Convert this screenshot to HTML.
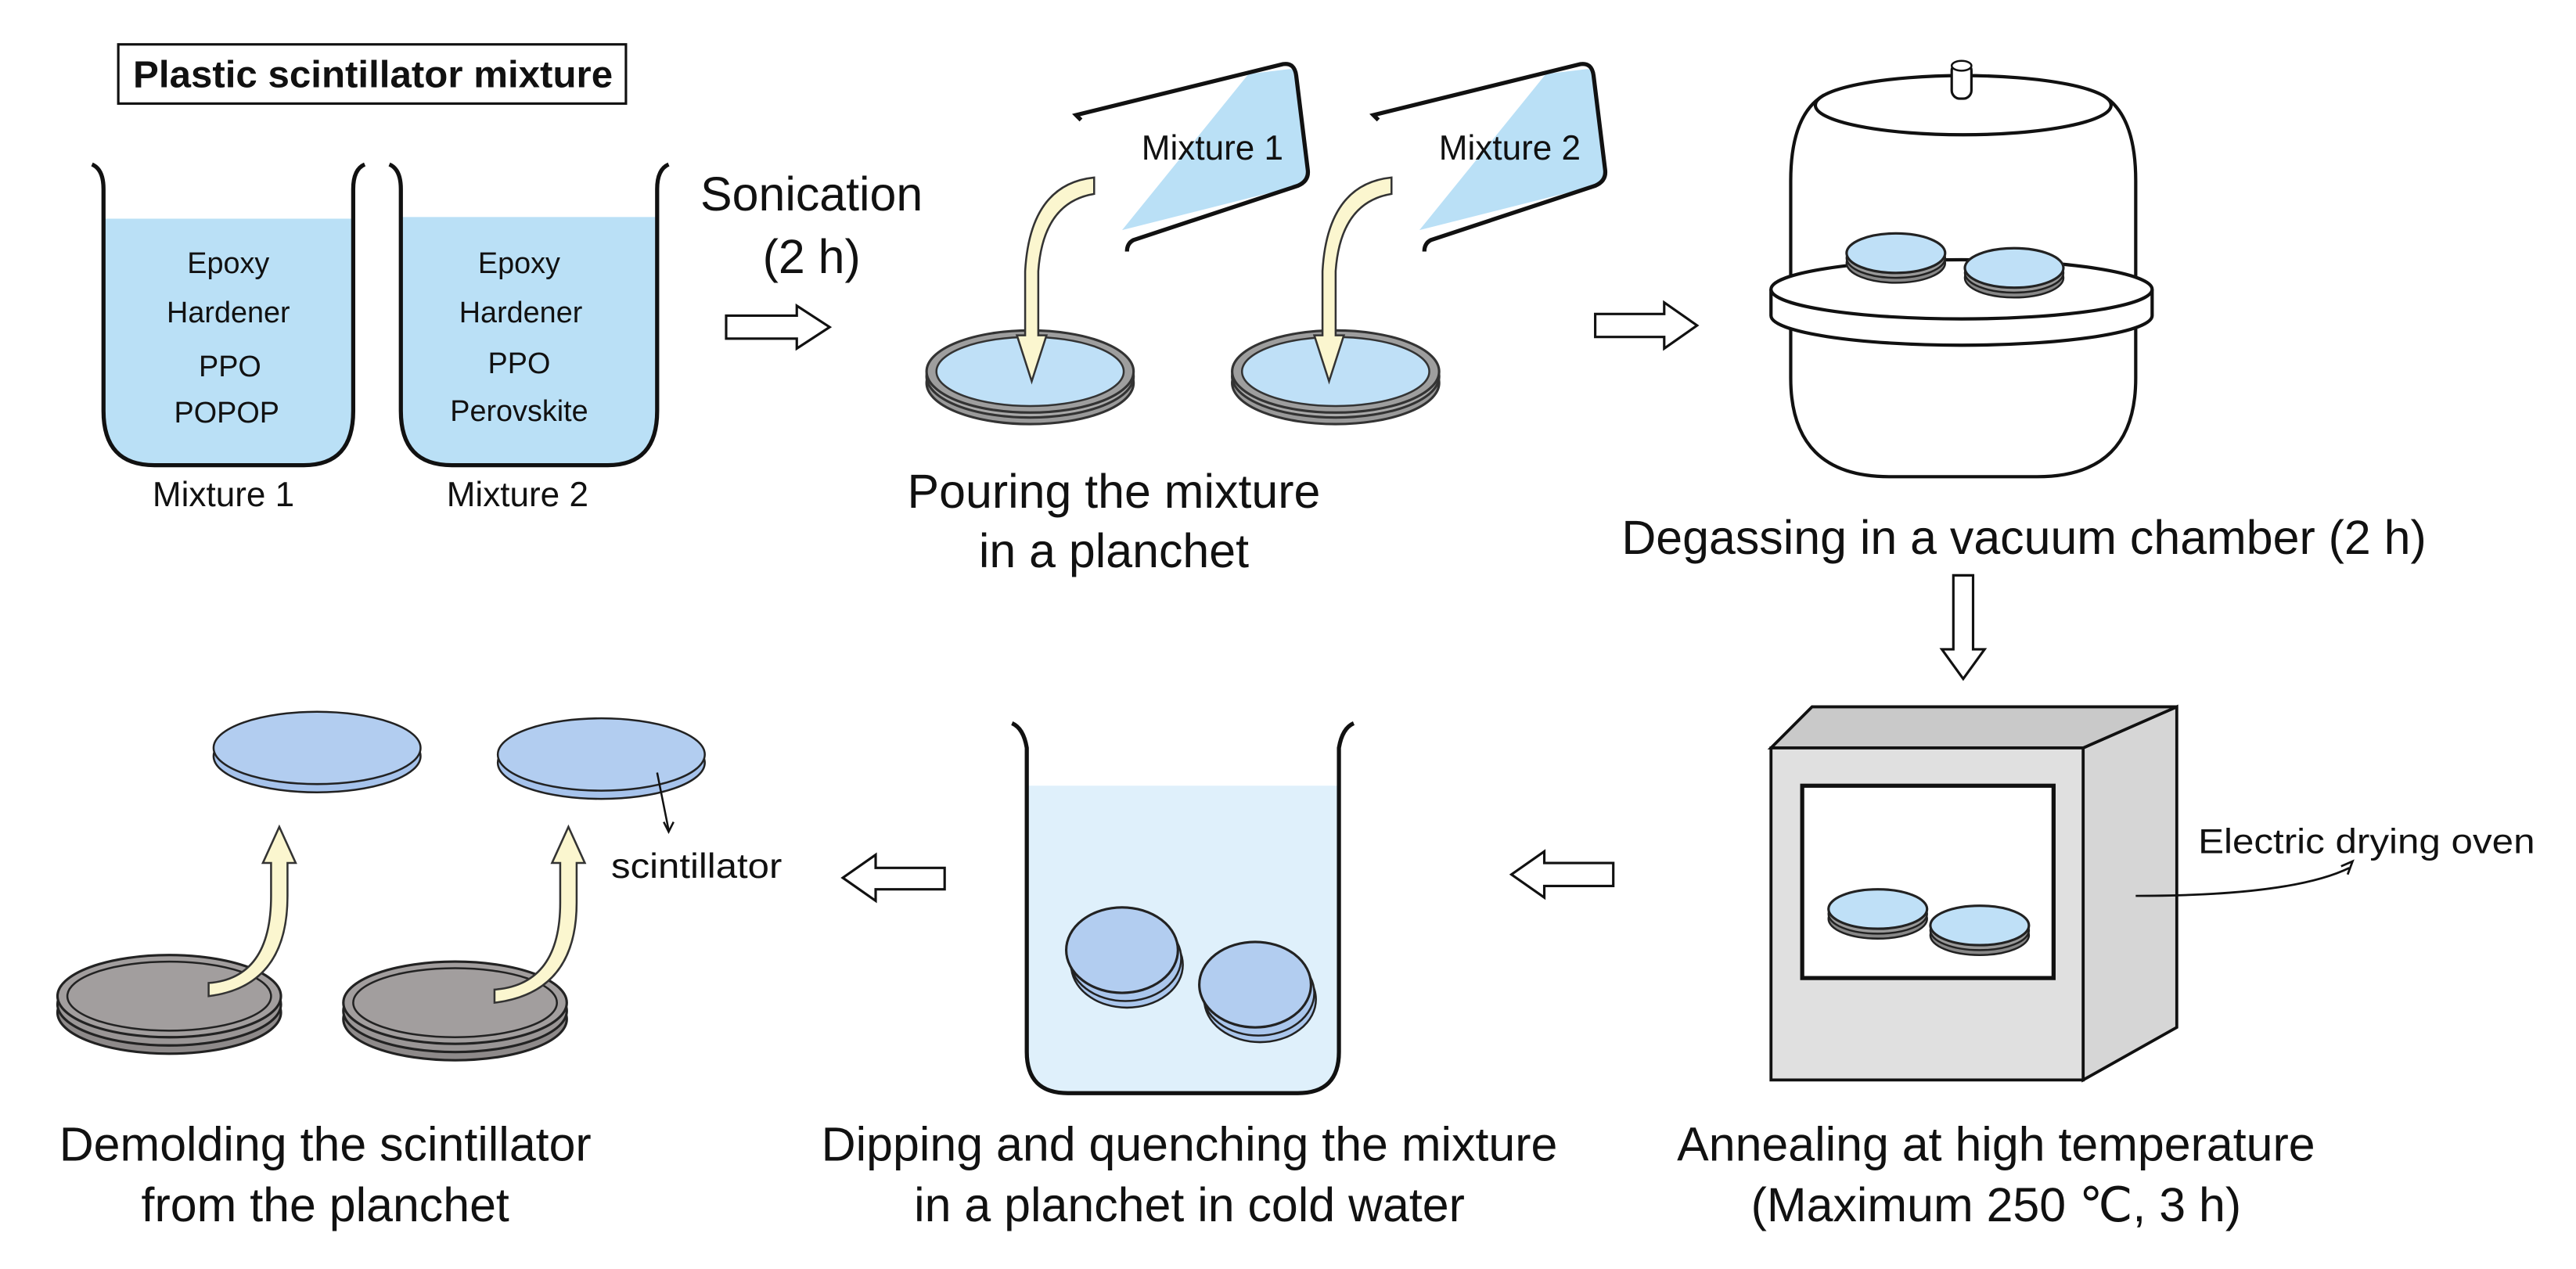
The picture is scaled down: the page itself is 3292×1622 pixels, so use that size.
<!DOCTYPE html>
<html><head><meta charset="utf-8"><style>
html,body{margin:0;padding:0;background:#fff;}
svg{display:block;}
text{font-family:"Liberation Sans",Arial,sans-serif;fill:#111;}
</style></head><body>
<svg width="3292" height="1622" viewBox="0 0 1568 772" preserveAspectRatio="none" xmlns="http://www.w3.org/2000/svg">
<defs>
<g id="planchet">
<ellipse cx="0" cy="6" rx="63" ry="25" fill="#9a9a9a" stroke="#333" stroke-width="1.5"/>
<ellipse cx="0" cy="2" rx="63" ry="25" fill="#a9a9a9" stroke="#333" stroke-width="1.5"/>
<ellipse cx="0" cy="-1" rx="63" ry="25" fill="#9e9e9e" stroke="#333" stroke-width="1.5"/>
<ellipse cx="0" cy="-1" rx="57" ry="21" fill="#bfe0f7" stroke="#333" stroke-width="1.2"/>
</g>
<g id="graypl">
<ellipse cx="0" cy="8" rx="68" ry="25" fill="#8e8a8a" stroke="#222" stroke-width="1.5"/>
<ellipse cx="0" cy="3" rx="68" ry="25" fill="#9a9696" stroke="#222" stroke-width="1.5"/>
<ellipse cx="0" cy="-2" rx="68" ry="25" fill="#a29e9e" stroke="#222" stroke-width="1.5"/>
<ellipse cx="0" cy="-2" rx="62" ry="21" fill="#a29e9e" stroke="#222" stroke-width="1.2"/>
</g>
<g id="smalldisk">
<ellipse cx="0" cy="6" rx="30" ry="12" fill="#888" stroke="#222" stroke-width="1.2"/>
<ellipse cx="0" cy="3" rx="30" ry="12" fill="#999" stroke="#222" stroke-width="1.2"/>
<ellipse cx="0" cy="0" rx="30" ry="12" fill="#bfe0f7" stroke="#222" stroke-width="1.5"/>
</g>
<g id="scint">
<ellipse cx="0" cy="5" rx="63" ry="22" fill="#a6c3ec" stroke="#222" stroke-width="1.2"/>
<ellipse cx="0" cy="0" rx="63" ry="22" fill="#b2cdf0" stroke="#222" stroke-width="1.2"/>
</g>
</defs>

<!-- Title -->
<rect x="72" y="27" width="309" height="36" fill="#fff" stroke="#111" stroke-width="1.5"/>
<text x="227" y="53" font-size="23" font-weight="bold" text-anchor="middle" textLength="292" lengthAdjust="spacingAndGlyphs">Plastic scintillator mixture</text>

<!-- Beaker 1 -->
<path d="M63,133 H215 V250 Q215,283 185,283 H94 Q63,283 63,250 Z" fill="#bae0f6"/>
<path d="M56,100 Q63,103 63,115 V250 Q63,283 94,283 H185 Q215,283 215,250 V115 Q215,103 222,100" fill="none" stroke="#111" stroke-width="2.5"/>
<g font-size="18" text-anchor="middle"><text x="139" y="166">Epoxy</text><text x="139" y="196">Hardener</text><text x="140" y="229">PPO</text><text x="138" y="257">POPOP</text></g>
<!-- Beaker 2 -->
<path d="M244,132 H400 V250 Q400,283 370,283 H275 Q244,283 244,250 Z" fill="#bae0f6"/>
<path d="M237,100 Q244,103 244,115 V250 Q244,283 275,283 H370 Q400,283 400,250 V115 Q400,103 407,100" fill="none" stroke="#111" stroke-width="2.5"/>
<g font-size="18" text-anchor="middle"><text x="316" y="166">Epoxy</text><text x="317" y="196">Hardener</text><text x="316" y="227">PPO</text><text x="316" y="256">Perovskite</text></g>
<g font-size="21" text-anchor="middle"><text x="136" y="308">Mixture 1</text><text x="315" y="308">Mixture 2</text></g>

<!-- Sonication -->
<text x="494" y="128" font-size="29" text-anchor="middle">Sonication</text>
<text x="494" y="166" font-size="29" text-anchor="middle">(2 h)</text>
<path d="M442,192 H485 V186 L505,199 L485,212 V206 H442 Z" fill="#fff" stroke="#111" stroke-width="1.5"/>

<!-- Pour containers -->
<g>
<path d="M760,45 L785,42 Q790,42 790,50 L796,103 Q797,110 790,113 L683,140 Z" fill="#bae0f6"/>
<path d="M658,73 L655,70 L781,39 Q788,38 789,46 L796,103 Q797,110 790,113 L690,146 Q686,148 686,153" fill="none" stroke="#111" stroke-width="2.5"/>
<text x="738" y="97" font-size="21" text-anchor="middle">Mixture 1</text>
</g>
<g transform="translate(181,0)">
<path d="M760,45 L785,42 Q790,42 790,50 L796,103 Q797,110 790,113 L683,140 Z" fill="#bae0f6"/>
<path d="M658,73 L655,70 L781,39 Q788,38 789,46 L796,103 Q797,110 790,113 L690,146 Q686,148 686,153" fill="none" stroke="#111" stroke-width="2.5"/>
<text x="738" y="97" font-size="21" text-anchor="middle">Mixture 2</text>
</g>

<!-- Planchets -->
<use href="#planchet" x="627" y="227"/>
<use href="#planchet" x="813" y="227"/>
<path d="M666,108 V118 Q635,123 632,165 V204 H637 L628,232 L619,204 H624 V165 Q627,112 666,108 Z" fill="#fbf6cf" stroke="#333" stroke-width="1.2"/>
<path d="M847,108 V118 Q816,123 813,165 V204 H818 L809,232 L800,204 H805 V165 Q808,112 847,108 Z" fill="#fbf6cf" stroke="#333" stroke-width="1.2"/>

<text x="678" y="309" font-size="29" text-anchor="middle">Pouring the mixture</text>
<text x="678" y="345" font-size="29" text-anchor="middle">in a planchet</text>

<path d="M971,191 H1013 V184 L1033,198 L1013,212 V205 H971 Z" fill="#fff" stroke="#111" stroke-width="1.5"/>

<!-- Vacuum chamber -->
<path d="M1090,110 Q1090,70 1110,58 L1280,58 Q1300,70 1300,110 V230 Q1300,290 1240,290 H1150 Q1090,290 1090,230 Z" fill="#fff" stroke="#111" stroke-width="2"/>
<ellipse cx="1195" cy="64" rx="90" ry="18" fill="#fff" stroke="#111" stroke-width="2"/>
<rect x="1188" y="38" width="12" height="22" rx="5" fill="#fff" stroke="#111" stroke-width="1.5"/>
<ellipse cx="1194" cy="40" rx="6" ry="3" fill="#fff" stroke="#111" stroke-width="1.2"/>
<path d="M1078,176 V192 A116,18 0 0 0 1310,192 V176" fill="#fff" stroke="#111" stroke-width="2"/>
<ellipse cx="1194" cy="176" rx="116" ry="18" fill="#fff" stroke="#111" stroke-width="2"/>
<use href="#smalldisk" x="1154" y="154"/>
<use href="#smalldisk" x="1226" y="163"/>
<text x="1232" y="337" font-size="29" text-anchor="middle">Degassing in a vacuum chamber (2 h)</text>

<path d="M1189,350 H1201 V395 H1208 L1195,413 L1182,395 H1189 Z" fill="#fff" stroke="#111" stroke-width="1.5"/>

<!-- Oven -->
<path d="M1268,455 L1325,430 V625 L1268,657 Z" fill="#d6d6d6" stroke="#111" stroke-width="1.8"/>
<path d="M1078,455 L1103,430 H1325 L1268,455 Z" fill="#c9c9c9" stroke="#111" stroke-width="1.8"/>
<rect x="1078" y="455" width="190" height="202" fill="#e0e0e0" stroke="#111" stroke-width="1.8"/>
<rect x="1097" y="478" width="153" height="117" fill="#fff" stroke="#111" stroke-width="2.5"/>
<use href="#smalldisk" x="1143" y="553"/>
<use href="#smalldisk" x="1205" y="563"/>
<text x="1338" y="519" font-size="21" textLength="205" lengthAdjust="spacingAndGlyphs">Electric drying oven</text>
<path d="M1300,545 Q1395,545 1430,528" fill="none" stroke="#111" stroke-width="1.3"/>
<path d="M1425,527 L1432,524 L1429,532" fill="none" stroke="#111" stroke-width="1.3"/>
<text x="1215" y="706" font-size="29" text-anchor="middle">Annealing at high temperature</text>
<text x="1215" y="743" font-size="29" text-anchor="middle">(Maximum 250 ℃, 3 h)</text>

<path d="M982,525 H940 V518 L920,532 L940,546 V539 H982 Z" fill="#fff" stroke="#111" stroke-width="1.5"/>

<!-- Water beaker -->
<path d="M625,478 H815 V640 Q815,665 790,665 H650 Q625,665 625,640 Z" fill="#dff0fb"/>
<path d="M616,440 Q623,443 625,455 V640 Q625,665 650,665 H790 Q815,665 815,640 V455 Q817,443 824,440" fill="none" stroke="#111" stroke-width="2.5"/>
<g>
<ellipse cx="686" cy="587" rx="34" ry="26" fill="#aac6ec" stroke="#222" stroke-width="1.2"/>
<ellipse cx="685" cy="583" rx="34" ry="26" fill="#aac6ec" stroke="#222" stroke-width="1.2"/>
<ellipse cx="683" cy="578" rx="34" ry="26" fill="#b2cdf0" stroke="#222" stroke-width="1.5"/>
<ellipse cx="767" cy="608" rx="34" ry="26" fill="#aac6ec" stroke="#222" stroke-width="1.2"/>
<ellipse cx="766" cy="604" rx="34" ry="26" fill="#aac6ec" stroke="#222" stroke-width="1.2"/>
<ellipse cx="764" cy="599" rx="34" ry="26" fill="#b2cdf0" stroke="#222" stroke-width="1.5"/>
</g>
<text x="724" y="706" font-size="29" text-anchor="middle">Dipping and quenching the mixture</text>
<text x="724" y="743" font-size="29" text-anchor="middle">in a planchet in cold water</text>

<path d="M575,528 H533 V520 L513,534 L533,548 V541 H575 Z" fill="#fff" stroke="#111" stroke-width="1.5"/>

<!-- Demolding -->
<use href="#scint" x="193" y="455"/>
<use href="#scint" x="366" y="459"/>
<use href="#graypl" x="103" y="608"/>
<use href="#graypl" x="277" y="612"/>
<path d="M127,598 V606 Q175,600 175,545 V525 H180 L170,503 L160,525 H165 V545 Q165,595 127,598 Z" fill="#fbf6cf" stroke="#333" stroke-width="1.2"/>
<path d="M301,602 V610 Q351,604 351,549 V525 H356 L346,503 L336,525 H341 V549 Q341,599 301,602 Z" fill="#fbf6cf" stroke="#333" stroke-width="1.2"/>
<path d="M400,470 L407,505" stroke="#111" stroke-width="1.2"/>
<path d="M404,500 L407,506 L410,500" fill="none" stroke="#111" stroke-width="1.2"/>
<text x="372" y="534" font-size="21" textLength="104" lengthAdjust="spacingAndGlyphs">scintillator</text>
<text x="198" y="706" font-size="29" text-anchor="middle">Demolding the scintillator</text>
<text x="198" y="743" font-size="29" text-anchor="middle">from the planchet</text>
</svg>
</body></html>
